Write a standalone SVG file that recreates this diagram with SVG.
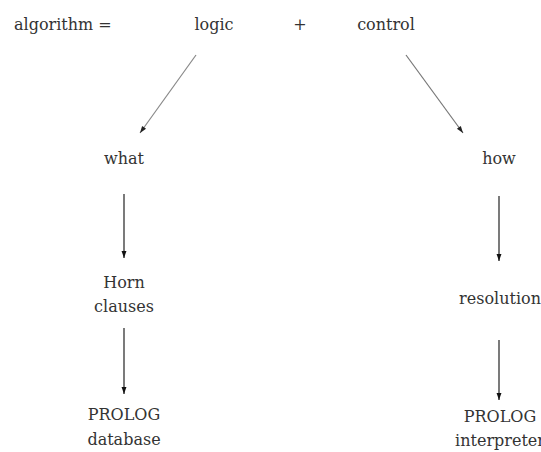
<svg xmlns="http://www.w3.org/2000/svg" width="541" height="452" viewBox="0 0 541 452">
<style>
text{font-family:"DejaVu Serif","Liberation Serif",serif;font-size:16px;fill:#333;text-anchor:middle}
.c line{stroke-width:1.2}
</style>
<defs>
<marker id="ah" viewBox="0 0 10 10" refX="10" refY="5" markerWidth="11" markerHeight="7" markerUnits="userSpaceOnUse" orient="auto"><path d="M0,1.5 L10,5 L0,8.5 z" fill="#111"/></marker>
<marker id="ahg" viewBox="0 0 10 10" refX="10" refY="5" markerWidth="11" markerHeight="7" markerUnits="userSpaceOnUse" orient="auto"><path d="M0,1.5 L10,5 L0,8.5 z" fill="#222"/></marker>
</defs>
<rect width="541" height="452" fill="#fff"/>
<g id="algorithm"><text x="14" y="30" style="text-anchor:start">algorithm =</text></g>
<g id="logic"><text x="214" y="30">logic</text></g>
<g id="plus"><text x="300" y="30">+</text></g>
<g id="control"><text x="386" y="30">control</text></g>
<g id="what"><text x="124" y="164">what</text></g>
<g id="how"><text x="499" y="164">how</text></g>
<g id="horn"><text x="124" y="288">Horn</text><text x="124" y="312">clauses</text></g>
<g id="resolution"><text x="500" y="304">resolution</text></g>
<g id="prolog-int"><text x="500" y="422">PROLOG</text><text x="500" y="446">interpreter</text></g>
<g id="prolog-db"><text x="124" y="420">PROLOG</text><text x="124" y="445">database</text></g>
<g id="connectors" class="c">
<line x1="196" y1="55" x2="140" y2="133" stroke="#888" marker-end="url(#ahg)"/>
<line x1="406" y1="55" x2="463" y2="133" stroke="#777" marker-end="url(#ahg)"/>
<line x1="124" y1="194" x2="124" y2="258" stroke="#222" marker-end="url(#ah)"/>
<line x1="124" y1="328" x2="124" y2="394" stroke="#222" marker-end="url(#ah)"/>
<line x1="499" y1="196" x2="499" y2="261" stroke="#222" marker-end="url(#ah)"/>
<line x1="499" y1="340" x2="499" y2="400" stroke="#222" marker-end="url(#ah)"/>
</g>
</svg>
